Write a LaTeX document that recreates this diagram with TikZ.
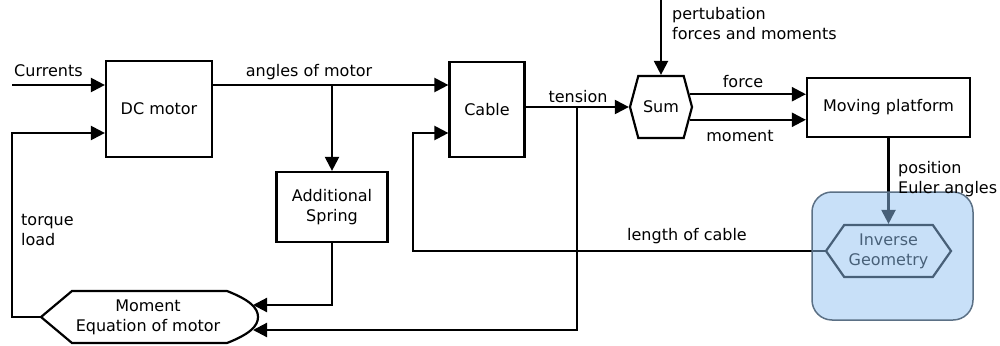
\documentclass[tikz,border=0pt]{standalone}
\usepackage{fontspec}
\setmainfont{DejaVu Sans}
\usetikzlibrary{arrows.meta,shapes.symbols}
\definecolor{geomfill}{HTML}{91C1F1}
\definecolor{geomedge}{HTML}{5B7085}
\tikzset{
  every node/.style={font=\fontsize{16}{20}\selectfont},
  block/.style={draw, line width=2.2pt, align=center, inner sep=0pt},
  hexblock/.style={block, signal, signal to=east and west, signal pointer angle=#1},
  flow/.style={line width=2.2pt, -{Triangle[length=14pt,width=14pt]}},
  wire/.style={line width=2.2pt},
  lbl/.style={inner sep=0pt, align=left},
}

\begin{document}
\begin{tikzpicture}[x=1pt,y=-1pt]
    \useasboundingbox (0,0) rectangle (1000,345);
    \node[block, minimum width=106pt, minimum height=96pt] (dc) at (159,109) {DC motor};
    \node[block, minimum width=75pt, minimum height=95pt] (cable) at (487,109.5) {Cable};
    \node[block, minimum width=111pt, minimum height=70pt] (spring) at (332,207) {Additional\\Spring};
    \node[hexblock=150, minimum width=62pt, minimum height=62pt] (sum) at (661,107) {Sum};
    \node[block, minimum width=163pt, minimum height=59pt] (plat) at (888.5,107.5) {Moving platform};
    \node[hexblock=110, minimum width=125pt, minimum height=52pt] (inv) at (888.5,251) {Inverse\\Geometry};
    % moment equation, pointed left and round right
    \node[lbl, align=center] (moment) at (148,317) {Moment\\Equation of motor};
    \draw[wire] (72,291) -- (227,291) .. controls (250,300) and (258,308) .. (258,317)
      .. controls (258,326) and (250,334) .. (227,343) -- (72,343) -- (41,317) -- cycle;
    \coordinate (momtip) at (41,317);
    \coordinate (momin1) at (253,305);
    \coordinate (momin2) at (253,330);
    \coordinate (cur) at (12,85);
    \coordinate (fbdc) at (12,133);
    \coordinate (fbcab) at (413,133);
    \coordinate (brsp) at (332,85);
    \coordinate (brten) at (577,108);
    \coordinate (pert) at (661,0);
    % connectors
    \draw[flow] (cur) -- (cur -| dc.west);
    \draw[flow] (momtip) -| (fbdc) -- (fbdc -| dc.west);
    \draw[flow] (dc.east |- cur) -- (cur -| cable.west);
    \draw[flow] (brsp) -- (spring.north);
    \draw[flow] (spring.south) |- (momin1);
    \draw[flow] (cable.east |- sum.west) -- (sum.west);
    \draw[flow] (brten) |- (momin2);
    \draw[flow] (pert) -- (sum.north);
    \draw[flow] (sum.24) -- (sum.24 -| plat.west);
    \draw[flow] (sum.-24) -- (sum.-24 -| plat.west);
    \draw[flow] (plat.south) -- (inv.north);
    \draw[flow] (inv.west) -| (fbcab) -- (fbcab -| cable.west);
    % labels
    \node[lbl, anchor=base west] (currlbl) at (14,76) {Currents};
    \node[lbl, anchor=base] (anglbl) at (309,76) {angles of motor};
    \node[lbl, anchor=base] (tenlbl) at (578,102) {tension};
    \node[lbl, anchor=base] (forcelbl) at (743,87) {force};
    \node[lbl, anchor=base] (momlbl) at (740,141) {moment};
    \node[lbl, anchor=base] (lenlbl) at (687,240) {length of cable};
    \node[lbl, anchor=west] (pertlbl) at (672,24) {pertubation\\forces and moments};
    \node[lbl, anchor=west] (torqlbl) at (21,230) {torque\\load};
    % inverse geometry group
    \draw[geomedge, line width=1.5pt, fill=geomfill, fill opacity=0.5, rounded corners=20pt]
      (812,192) rectangle (973,320);
    \node[lbl, anchor=west] (poslbl) at (898,179) {position\\Euler angles};
\end{tikzpicture}
\end{document}
